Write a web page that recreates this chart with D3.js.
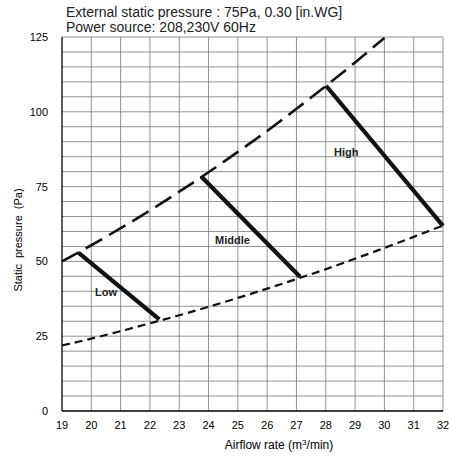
<!DOCTYPE html>
<html>
<head>
<meta charset="utf-8">
<script src="https://cdn.jsdelivr.net/npm/d3@7"></script>
<style>
  body { margin: 0; background: #fff; }
  svg { font-family: "Liberation Sans", Arial, sans-serif; }
</style>
</head>
<body>
<script>
const m = { width: 449, height: 458, left: 62, right: 6, top: 37, bottom: 47 }

// data
const xTicks = [19, 20, 21, 22, 23, 24, 25, 26, 27, 28, 29, 30, 31, 32]
const yTicks = [0, 25, 50, 75, 100, 125]
const upperCurve = [[19, 50], [20, 55.4], [21, 61.1], [22, 67.0], [23, 73.3], [24, 79.8], [25, 86.6], [26, 93.6], [27, 101.0], [28, 108.6], [29, 116.5], [30, 124.7]]
const lowerCurve = [[19, 21.9], [20, 24.2], [21, 26.7], [22, 29.3], [23, 32.0], [24, 34.8], [25, 37.8], [26, 40.9], [27, 44.1], [28, 47.4], [29, 50.9], [30, 54.5], [31, 58.2], [32, 62]]
const fanLines = [
  { name: 'Low', pts: [[19.56, 52.9], [22.32, 30.6]], label: [20.13, 38.4] },
  { name: 'Middle', pts: [[23.75, 78.4], [27.12, 44.9]], label: [24.22, 55.8] },
  { name: 'High', pts: [[28.01, 108.7], [32, 61.9]], label: [28.28, 85.3] }
]

const svg = d3.select('body').append('svg')
  .attr('width', m.width)
  .attr('height', m.height)

const x = d3.scaleLinear().domain([19, 32]).range([m.left, m.width - m.right])
const y = d3.scaleLinear().domain([0, 125]).range([m.height - m.bottom, m.top])

// grid
const grid = svg.append('g')
grid.selectAll('.hg')
  .data(d3.range(5, 126, 5))
  .enter().append('line')
  .attr('x1', x(19)).attr('x2', x(32))
  .attr('y1', d => y(d)).attr('y2', d => y(d))
  .attr('stroke', '#777').attr('stroke-width', 0.8)
grid.selectAll('.vg')
  .data(d3.range(20, 33, 1))
  .enter().append('line')
  .attr('x1', d => x(d)).attr('x2', d => x(d))
  .attr('y1', y(0)).attr('y2', y(125))
  .attr('stroke', '#777').attr('stroke-width', 0.8)

// axes frame
svg.append('line')
  .attr('x1', x(19)).attr('x2', x(19)).attr('y1', y(0)).attr('y2', y(125))
  .attr('stroke', '#000').attr('stroke-width', 1.3)
svg.append('line')
  .attr('x1', x(19)).attr('x2', x(32)).attr('y1', y(0)).attr('y2', y(0))
  .attr('stroke', '#000').attr('stroke-width', 1.3)

// tick labels
svg.selectAll('.xt')
  .data(xTicks)
  .enter().append('text')
  .attr('x', d => x(d)).attr('y', y(0) + 18)
  .attr('text-anchor', 'middle')
  .style('font-size', '11px')
  .text(d => d)
svg.selectAll('.yt')
  .data(yTicks)
  .enter().append('text')
  .attr('x', 48).attr('y', d => y(d) + 4)
  .attr('text-anchor', 'end')
  .style('font-size', '11px')
  .text(d => d)

// axis titles
svg.append('text')
  .attr('x', 279).attr('y', 449)
  .attr('text-anchor', 'middle')
  .style('font-size', '12px')
  .html('Airflow rate (m<tspan dy="-4" font-size="8px">3</tspan><tspan dy="4">/min)</tspan>')
svg.append('text')
  .attr('transform', 'translate(22,240) rotate(-90)')
  .attr('text-anchor', 'middle')
  .style('font-size', '11px')
  .style('word-spacing', '3px')
  .text('Static pressure (Pa)')

// title
svg.append('text').attr('x', 66).attr('y', 17)
  .style('font-size', '14px').attr('fill', '#222')
  .text('External static pressure : 75Pa, 0.30 [in.WG]')
svg.append('text').attr('x', 66).attr('y', 32)
  .style('font-size', '14px').attr('fill', '#222')
  .text('Power source: 208,230V 60Hz')

// curves
const line = d3.line().x(d => x(d[0])).y(d => y(d[1])).curve(d3.curveMonotoneX)
svg.append('path')
  .attr('d', line(upperCurve))
  .attr('fill', 'none').attr('stroke', '#111')
  .attr('stroke-width', 2.6).attr('stroke-dasharray', '19,8')
svg.append('path')
  .attr('d', line(lowerCurve))
  .attr('fill', 'none').attr('stroke', '#111')
  .attr('stroke-width', 2.2).attr('stroke-dasharray', '8,5')

const straight = d3.line().x(d => x(d[0])).y(d => y(d[1]))
svg.selectAll('.fan')
  .data(fanLines)
  .enter().append('path')
  .attr('d', d => straight(d.pts))
  .attr('fill', 'none').attr('stroke', '#111')
  .attr('stroke-width', 4.2)

svg.selectAll('.fl')
  .data(fanLines)
  .enter().append('text')
  .attr('x', d => x(d.label[0])).attr('y', d => y(d.label[1]))
  .style('font-size', '11px').style('font-weight', 'bold')
  .attr('fill', '#222')
  .text(d => d.name)
</script>
</body>
</html>
